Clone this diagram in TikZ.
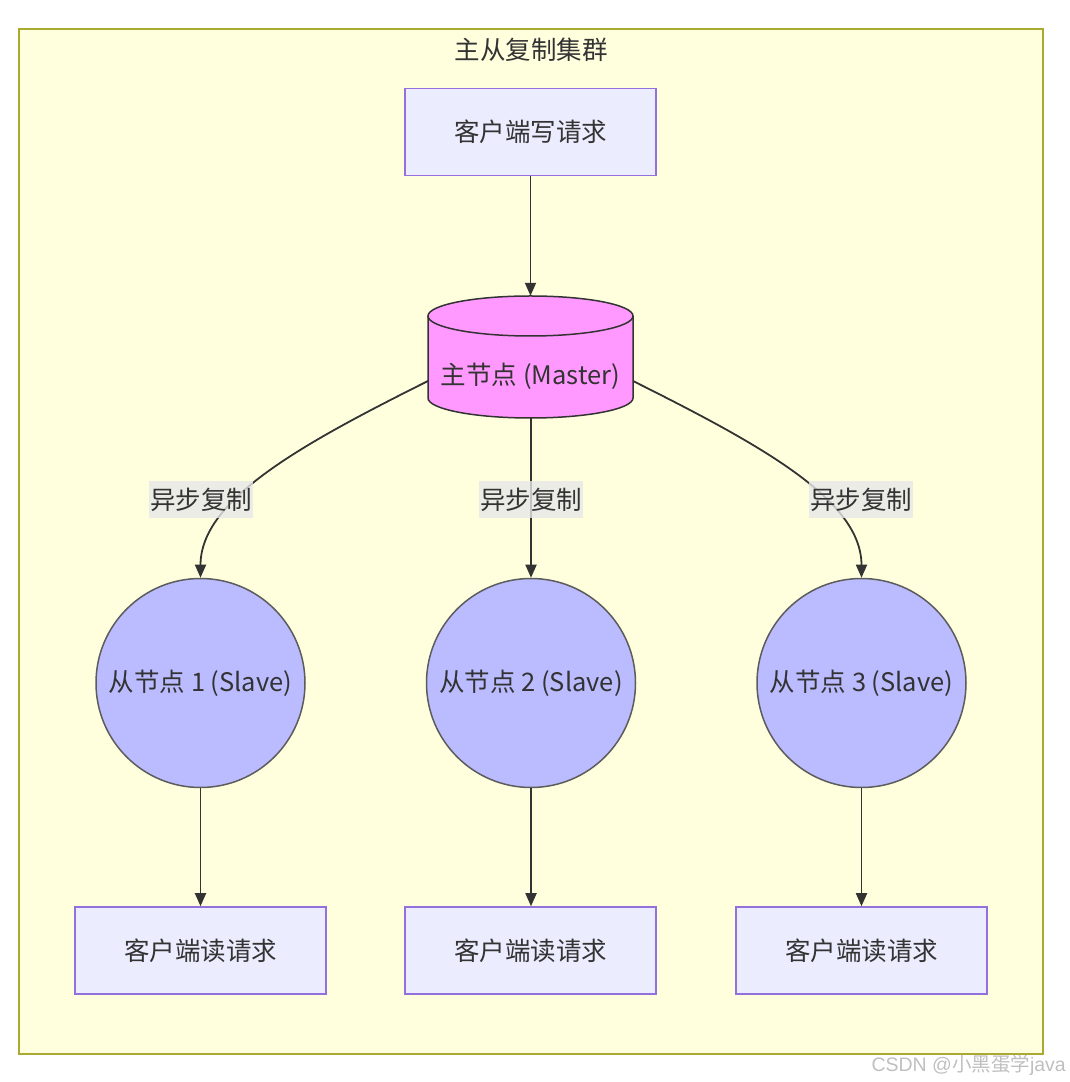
\documentclass[tikz,border=0pt]{standalone}
\usepackage{fontspec}
\setmainfont{Noto Sans CJK SC}
\newfontfamily\cjkf{Noto Sans CJK SC}
\newfontfamily\wmfont{Liberation Sans}
\usetikzlibrary{arrows.meta}
\definecolor{clusterfill}{HTML}{FFFFDE}
\definecolor{clusterline}{HTML}{AAAA33}
\definecolor{boxfill}{HTML}{ECECFF}
\definecolor{boxline}{HTML}{9370DB}
\definecolor{masterfill}{HTML}{FF99FF}
\definecolor{slavefill}{HTML}{BBBBFF}
\definecolor{ink}{HTML}{333333}
\definecolor{lblfill}{HTML}{E8E8E8}
\tikzset{
  txt/.style={font=\fontsize{25.5}{30}\selectfont, text=ink},
  reqbox/.style={txt, draw=boxline, fill=boxfill, line width=1.5pt, minimum width=251pt, minimum height=87pt, inner sep=0pt},
  slavenode/.style={txt, circle, draw=ink!80, fill=slavefill, line width=1.5pt, minimum size=209pt, inner sep=0pt},
  edge/.style={draw=ink, line width=1.8pt, -{Triangle[length=13pt,width=11pt]}},
  lbl/.style={txt, fill=lblfill, fill opacity=0.8, text opacity=1, inner xsep=1pt, inner ysep=0pt, minimum height=37pt},
}
\begin{document}
\begin{tikzpicture}[x=1pt,y=1pt]
\useasboundingbox (0,0) rectangle (1069,1082);
% cluster
\draw[fill=clusterfill, draw=clusterline, line width=1.5pt] (19,1053) rectangle (1043,28);
\node[txt] (title) at (531,1032) {主从复制集群};
% nodes
\node[reqbox] (write) at (530.5,950) {客户端写请求};
% master cylinder
\node[minimum width=205pt, minimum height=122pt, inner sep=0pt] (master) at (530.5,725) {};
\fill[masterfill] (428,766) -- (428,684) arc[start angle=180,end angle=360,x radius=102.5pt,y radius=20pt] -- (633,766) arc[start angle=0,end angle=180,x radius=102.5pt,y radius=20pt] -- cycle;
\draw[ink, line width=1.5pt] (428,766) -- (428,684) arc[start angle=180,end angle=360,x radius=102.5pt,y radius=20pt] -- (633,766);
\draw[ink, line width=1.5pt] (530.5,766) ellipse [x radius=102.5pt, y radius=20pt];
\node[txt] (mastertext) at (530.5,706) {主节点 (Master)};
\coordinate (ml) at (428,701);
\coordinate (mr) at (633,701);
% slaves
\node[slavenode] (s1) at (200.5,399) {从节点 1 (Slave)};
\node[slavenode] (s2) at (531,399) {从节点 2 (Slave)};
\node[slavenode] (s3) at (861.5,399) {从节点 3 (Slave)};
% read boxes
\node[reqbox] (r1) at (200.5,131.5) {客户端读请求};
\node[reqbox] (r2) at (530.5,131.5) {客户端读请求};
\node[reqbox] (r3) at (861.5,131.5) {客户端读请求};
% edges
\draw[edge] (write.south) -- (master.north);
\draw[edge] (ml) .. controls (300,637) and (200.5,582) .. (s1.north);
\draw[edge] (master.south -| s2.north) -- (s2.north);
\draw[edge] (mr) .. controls (761,637) and (861.5,582) .. (s3.north);
\draw[edge] (s1.south) -- (r1.north);
\draw[edge] (s2.south) -- (s2.south |- r2.north);
\draw[edge] (s3.south) -- (r3.north);
% labels
\node[lbl] (l1) at (201,582) {异步复制};
\node[lbl] (l2) at (531,582) {异步复制};
\node[lbl] (l3) at (861,582) {异步复制};
% watermark
\node[anchor=east, text=black!25, font=\fontsize{19.5}{22}\selectfont, inner sep=0pt] (wm) at (1066,17) {\wmfont CSDN @\cjkf 小黑蛋学\wmfont java};
\end{tikzpicture}
\end{document}
